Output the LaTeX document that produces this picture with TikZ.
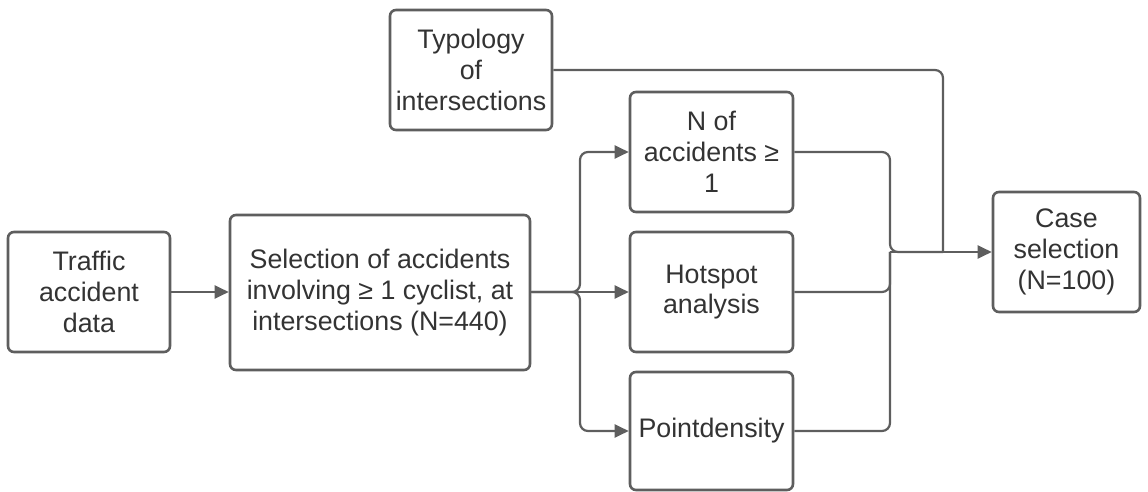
\documentclass[tikz,border=0pt]{standalone}
\usepackage{fontspec}
\setmainfont{Liberation Sans}
\usetikzlibrary{arrows.meta}
\definecolor{linec}{HTML}{5E5E5E}
\definecolor{textc}{HTML}{333333}
\tikzset{
  box/.style={draw=linec, line width=1.3pt, rounded corners=3pt, align=center, inner sep=0pt,
    font=\fontsize{13.4}{15.4}\selectfont, text=textc},
  conn/.style={draw=linec, line width=1.1pt, rounded corners=4pt},
  arr/.style={conn, -{Triangle[length=7pt,width=6.5pt]}}
}
\begin{document}
\begin{tikzpicture}[x=0.5pt,y=-0.5pt]
\useasboundingbox (0,0) rectangle (1148,492);
\node[box, minimum width=81pt, minimum height=60pt] (traffic) at (89,292) {Traffic\\accident\\data};
\node[box, minimum width=150pt, minimum height=77.5pt] (sel) at (380,292.5) {Selection of accidents\\involving ≥ 1 cyclist, at\\intersections (N=440)};
\node[box, minimum width=81pt, minimum height=60pt] (typo) at (471,70) {Typology\\of\\intersections};
\node[box, minimum width=81.5pt, minimum height=60pt] (nacc) at (711.5,152) {N of\\accidents ≥\\1};
\node[box, minimum width=81.5pt, minimum height=60pt] (hot) at (711.5,292) {Hotspot\\analysis};
\node[box, minimum width=81.5pt, minimum height=59pt] (pd) at (711.5,431) {Pointdensity};
\node[box, minimum width=73.5pt, minimum height=60pt] (case) at (1066.5,252) {Case\\selection\\(N=100)};
\coordinate (b1) at (580,292);
\coordinate (m1) at (890,252);
\coordinate (m2) at (943,252);
\draw[arr] (traffic.east) -- (sel.west |- traffic.east);
\draw[arr] (sel.east |- b1) -- (b1) |- (nacc.west);
\draw[arr] (sel.east |- b1) -- (hot.west);
\draw[arr] (sel.east |- b1) -- (b1) |- (pd.west |- pd.center);
\draw[conn] (nacc.east) -| (m1) -- (m2);
\draw[conn] (hot.east) -| (m1);
\draw[conn] (pd.east) -| (m1);
\draw[conn] (typo.east) -| (m2);
\draw[arr] (m1) -- (case.west |- m1);
\end{tikzpicture}
\end{document}
